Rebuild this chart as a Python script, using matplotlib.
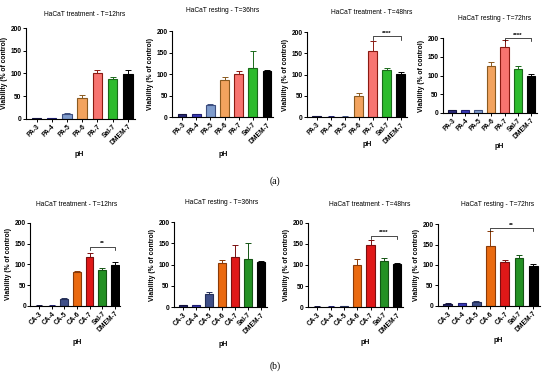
import matplotlib
matplotlib.use("Agg")
import matplotlib.pyplot as plt

plt.rcParams['font.family'] = ['Liberation Sans', 'DejaVu Sans']

pa_labels = ["PA-3", "PA-4", "PA-5", "PA-6", "PA-7", "Sal-7", "DMEM-7"]
ca_labels = ["CA-3", "CA-4", "CA-5", "CA-6", "CA-7", "Sal-7", "DMEM-7"]

titles_a = ["HaCaT treatment - T=12hrs", "HaCaT resting - T=36hrs",
            "HaCaT treatment - T=48hrs", "HaCaT resting - T=72hrs"]
titles_b = ["HaCaT treatment - T=12hrs", "HaCaT resting - T=36hrs",
            "HaCaT treatment - T=48hrs", "HaCaT resting - T=72hrs"]

pa_12_mean = [2, 2, 10, 47, 102, 88, 99]
pa_12_err = [1, 1, 4, 6, 6, 4, 8]
pa_36_mean = [6, 6, 28, 87, 99, 114, 106]
pa_36_err = [1, 1, 3, 7, 7, 40, 4]
pa_48_mean = [2, 1, 1, 49, 155, 110, 102]
pa_48_err = [1, 1, 1, 7, 25, 6, 3]
pa_72_mean = [8, 7, 8, 125, 177, 118, 98]
pa_72_err = [1, 1, 1, 10, 17, 8, 5]

ca_12_mean = [1, 1, 17, 81, 117, 87, 99]
ca_12_err = [1, 1, 2, 4, 10, 5, 7]
ca_36_mean = [5, 5, 30, 104, 117, 114, 106]
ca_36_err = [1, 1, 6, 7, 30, 38, 3]
ca_48_mean = [1, 1, 2, 100, 147, 110, 102]
ca_48_err = [1, 1, 1, 15, 12, 6, 2]
ca_72_mean = [5, 6, 10, 147, 108, 118, 98]
ca_72_err = [1, 1, 1, 37, 5, 6, 5]

pa_face = ["#2b2b7a", "#3a3ab8", "#7f9ccc", "#f2a35e", "#f77470", "#2dbb2d", "#000000"]
pa_edge = ["#14143f", "#1f1f70", "#3e4f80", "#8a5a20", "#8b1a12", "#1a6a1a", "#000000"]
ca_face = ["#24246e", "#3a3ab8", "#3f4f88", "#ea6a10", "#e01818", "#249124", "#000000"]
ca_edge = ["#14143f", "#1f1f70", "#25305a", "#8a3a08", "#7a0f0f", "#145414", "#000000"]

# significance brackets: (start index, end index, height, text)
sig_a = [None, None, (4, 6, 190, "****"), (4, 6, 200, "****")]
sig_b = [(4, 6, 143, "**"), None, (4, 6, 170, "****"), (3, 6, 190, "**")]

W, H = 550.0, 374.0
rects_a = [[0.047, 0.682, 0.198, 0.243], [0.313, 0.687, 0.184, 0.230],
           [0.558, 0.687, 0.182, 0.227], [0.805, 0.698, 0.171, 0.200]]
rects_b = [[0.055, 0.182, 0.164, 0.222], [0.316, 0.179, 0.169, 0.227],
           [0.560, 0.179, 0.173, 0.225], [0.796, 0.182, 0.185, 0.219]]
# title and x-label anchor points (pixels)
title_pos_a = [(85, 15), (223, 11), (372, 13), (495, 19)]
title_pos_b = [(77, 205), (222, 202), (370, 205), (498, 205)]
xlab_pos_a = [(79, 155), (223, 154), (367, 144), (499, 146)]
xlab_pos_b = [(77, 342), (223, 344), (365, 342), (498, 341)]

fig = plt.figure(figsize=(5.5, 3.74), dpi=100)


def panel(rect, labels, mean, err, face, edge, title, sig, tpos, xpos):
    ax = fig.add_axes(rect)
    x = list(range(len(labels)))
    ax.bar(x, mean, width=0.62, color=face, edgecolor=edge, linewidth=0.8)
    for xi, m, e, c in zip(x, mean, err, edge):
        ax.errorbar(xi, m, yerr=[[0], [e]], fmt='none', ecolor=c,
                    elinewidth=0.7, capsize=2, capthick=0.7)
    ax.set_xlim(-0.7, len(labels) - 0.55)
    ax.set_ylim(0, 200)
    ax.set_yticks([0, 50, 100, 150, 200])
    ax.set_xticks(x)
    ax.set_xticklabels(labels, rotation=45, ha='right', rotation_mode='anchor',
                       fontsize=4.8, fontweight='bold')
    for t in ax.get_yticklabels():
        t.set_fontsize(4.8)
        t.set_fontweight('bold')
    ax.tick_params(axis='both', length=2, width=0.7, pad=1)
    ax.spines['top'].set_visible(False)
    ax.spines['right'].set_visible(False)
    ax.spines['left'].set_linewidth(0.8)
    ax.spines['bottom'].set_linewidth(0.8)
    ax.set_ylabel("Viability (% of control)", fontsize=4.9, fontweight='bold', labelpad=2)
    fig.text(tpos[0] / W, 1 - tpos[1] / H, title, ha='center', va='center',
             fontsize=4.8)
    fig.text(xpos[0] / W, 1 - xpos[1] / H, "pH", ha='center', va='center',
             fontsize=5.0, fontweight='bold')
    if sig is not None:
        i0, i1, h, txt = sig
        ax.plot([i0, i0, i1, i1], [h - 8, h, h, h - 8], color='black', lw=0.5,
                clip_on=False)
        ax.text((i0 + i1) / 2, h + 1, txt, ha='center', va='bottom',
                fontsize=4.5, fontweight='bold')
    return ax


for r, m, e, t, s, tp, xp in zip(rects_a, [pa_12_mean, pa_36_mean, pa_48_mean, pa_72_mean],
                                 [pa_12_err, pa_36_err, pa_48_err, pa_72_err], titles_a, sig_a,
                                 title_pos_a, xlab_pos_a):
    panel(r, pa_labels, m, e, pa_face, pa_edge, t, s, tp, xp)

for r, m, e, t, s, tp, xp in zip(rects_b, [ca_12_mean, ca_36_mean, ca_48_mean, ca_72_mean],
                                 [ca_12_err, ca_36_err, ca_48_err, ca_72_err], titles_b, sig_b,
                                 title_pos_b, xlab_pos_b):
    panel(r, ca_labels, m, e, ca_face, ca_edge, t, s, tp, xp)

fig.text(0.5, 1 - 181 / H, "(a)", ha='center', va='center', fontsize=7,
         family=['Liberation Serif', 'DejaVu Serif'])
fig.text(0.5, 1 - 366 / H, "(b)", ha='center', va='center', fontsize=7,
         family=['Liberation Serif', 'DejaVu Serif'])

fig.savefig("out.png", dpi=100)
